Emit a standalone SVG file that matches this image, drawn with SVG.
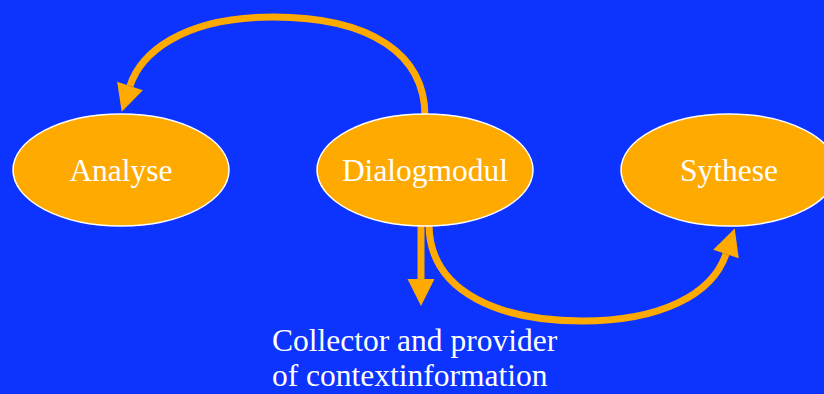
<svg xmlns="http://www.w3.org/2000/svg" width="824" height="394" viewBox="0 0 824 394">
  <style>
    .node { fill: #FFAA00; stroke: #FFFFFF; stroke-width: 1.5; }
    .label { font-size: 31.5px; fill: #FFFFFF; }
    .conn { fill: none; stroke: #FFAA00; stroke-width: 7; }
  </style>
  <defs>
    <marker id="head" markerUnits="userSpaceOnUse" viewBox="0 0 27 27" refX="0" refY="13.5" markerWidth="27" markerHeight="27" orient="auto" overflow="visible">
      <path d="M0,0 L27,13.5 L0,27 Z" fill="#FFAA00"/>
    </marker>
  </defs>

  <rect x="0" y="0" width="824" height="394" fill="#0D33FF"/>

  <g id="connectors">
    <!-- Dialogmodul back to Analyse, over the top -->
    <path class="conn" d="M425 116 C425 55, 372 17, 273 17 C180 17, 140 55, 130 86" marker-end="url(#head)"/>
    <!-- Dialogmodul down to the context store -->
    <path class="conn" d="M421 226 L421 279" marker-end="url(#head)"/>
    <!-- Dialogmodul on to Sythese, underneath -->
    <path class="conn" d="M429 224 C429 295, 505 321, 582 321 C660 321, 712 295, 726 254" marker-end="url(#head)"/>
  </g>

  <g font-family="'Liberation Serif', 'DejaVu Serif', serif">
    <g id="analyse">
      <ellipse class="node" cx="121" cy="170" rx="108" ry="56"/>
      <text class="label" x="121" y="181" text-anchor="middle">Analyse</text>
    </g>

    <g id="dialogmodul">
      <ellipse class="node" cx="425" cy="170" rx="108" ry="56"/>
      <text class="label" x="425" y="181" text-anchor="middle">Dialogmodul</text>
    </g>

    <g id="sythese">
      <ellipse class="node" cx="729" cy="170" rx="108" ry="56"/>
      <text class="label" x="729" y="181" text-anchor="middle">Sythese</text>
    </g>

    <g id="context">
      <text class="label" x="272" y="351">Collector and provider</text>
      <text class="label" x="272" y="386">of contextinformation</text>
    </g>
  </g>
</svg>
